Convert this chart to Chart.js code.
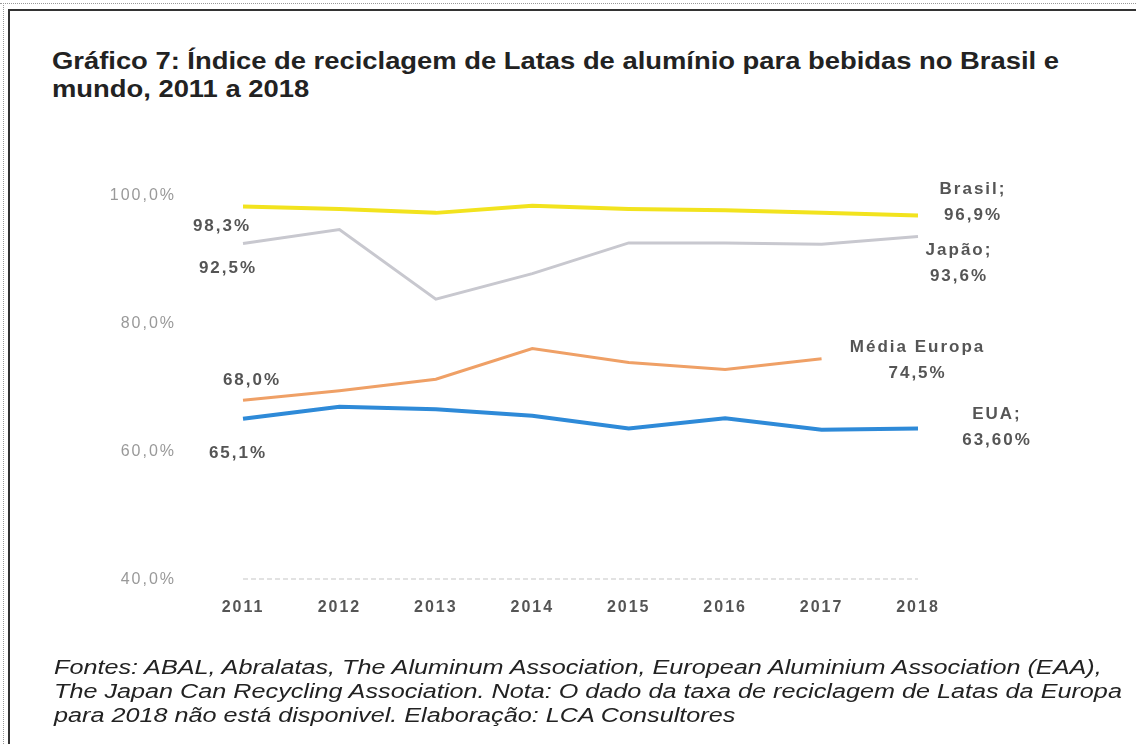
<!DOCTYPE html>
<html lang="pt-BR">
<head>
    <meta charset="UTF-8">
    <title>Gráfico 7</title>
    <script src="https://cdn.jsdelivr.net/npm/chart.js"></script>
    <style>
        body { margin: 0; width: 1136px; height: 744px; background: #fff; position: relative; overflow: hidden; font-family: "Liberation Sans", Arial, sans-serif; }
        .dots-top { position: absolute; left: 0; top: 3px; width: 1136px; border-top: 1px dotted #999; }
        .dots-left { position: absolute; left: 3px; top: 3px; height: 741px; border-left: 1px dotted #999; }
        .frame { position: absolute; left: 8px; top: 9px; width: 1128px; height: 735px; border-top: 2px solid #333; border-left: 2px solid #333; }
        h1 { position: absolute; left: 52px; top: 47px; margin: 0; font-size: 23px; line-height: 28px; font-weight: bold; color: #222; white-space: nowrap; transform: scaleX(1.19); transform-origin: left top; }
        .nota { position: absolute; left: 54px; top: 655px; margin: 0; font-size: 20px; line-height: 24px; font-style: italic; color: #222; white-space: nowrap; transform: scaleX(1.26); transform-origin: left top; }
        #grafico { position: absolute; left: 0; top: 119px; }
    </style>
</head>
<body>
    <div class="dots-top"></div>
    <div class="dots-left"></div>
    <div class="frame"></div>
    <h1>Gráfico 7: Índice de reciclagem de Latas de alumínio para bebidas no Brasil e<br>mundo, 2011 a 2018</h1>
    <canvas id="grafico" width="1136" height="537"></canvas>
    <p class="nota">Fontes: ABAL, Abralatas, The Aluminum Association, European Aluminium Association (EAA),<br>The Japan Can Recycling Association. Nota: O dado da taxa de reciclagem de Latas da Europa<br>para 2018 não está disponivel. Elaboração: LCA Consultores</p>

    <script>
        // dados
        const anos = ['2011', '2012', '2013', '2014', '2015', '2016', '2017', '2018'];
        const brasil = [98.3, 97.9, 97.3, 98.4, 97.9, 97.7, 97.3, 96.9];
        const japao = [92.5, 94.7, 83.8, 87.8, 92.6, 92.6, 92.4, 93.6];
        const europa = [68.0, 69.5, 71.3, 76.1, 73.9, 72.8, 74.5, null];
        const eua = [65.1, 67.0, 66.6, 65.6, 63.6, 65.2, 63.4, 63.6];
        const eixoY = [40, 60, 80, 100];

        // rótulos: [serie, ponto, linhas, dx, dy]
        const rotulos = [
            [0, 0, ['98,3%'], -21, 20],
            [1, 0, ['92,5%'], -15, 25],
            [2, 0, ['68,0%'], 9, -20],
            [3, 0, ['65,1%'], -5, 34],
            [0, 7, ['Brasil;', '96,9%'], 55, -26],
            [1, 7, ['Japão;', '93,6%'], 41, 14],
            [2, 6, ['Média Europa', '74,5%'], 96, -11],
            [3, 7, ['EUA;', '63,60%'], 79, -14]
        ];

        // espaçamento das letras como no original (digitalizado, mais largo)
        const pluginEspaco = {
            id: 'espaco',
            beforeDraw(chart) { chart.ctx.letterSpacing = '2px'; }
        };

        const pluginRotulos = {
            id: 'rotulos',
            afterDatasetsDraw(chart) {
                const ctx = chart.ctx;
                ctx.save();
                ctx.letterSpacing = '2px';
                ctx.font = 'bold 17px "Liberation Sans", Arial, sans-serif';
                ctx.fillStyle = '#555';
                ctx.textAlign = 'center';
                ctx.textBaseline = 'middle';
                rotulos.forEach(r => {
                    const pt = chart.getDatasetMeta(r[0]).data[r[1]];
                    r[2].forEach((txt, i) => {
                        ctx.fillText(txt, pt.x + r[3], pt.y + r[4] + i * 26);
                    });
                });
                ctx.restore();
            }
        };

        const serie = (label, data, cor, largura) => ({
            label: label,
            data: data,
            borderColor: cor,
            borderWidth: largura,
            pointRadius: 0,
            tension: 0,
            fill: false,
            spanGaps: false
        });

        new Chart(document.getElementById('grafico'), {
            type: 'line',
            data: {
                labels: anos,
                datasets: [
                    serie('Brasil', brasil, '#f2e31e', 4),
                    serie('Japão', japao, '#c8c8cf', 3),
                    serie('Média Europa', europa, '#efa066', 3),
                    serie('EUA', eua, '#2e8ad8', 4)
                ]
            },
            options: {
                responsive: false,
                animation: false,
                layout: { padding: { left: 0, right: 218, top: 33, bottom: 0 } },
                plugins: { legend: { display: false }, tooltip: { enabled: false } },
                scales: {
                    x: {
                        offset: false,
                        grid: { display: false },
                        border: { display: false },
                        ticks: {
                            padding: 11,
                            color: '#555',
                            font: { family: '"Liberation Sans", Arial', size: 16, weight: 'bold' }
                        }
                    },
                    y: {
                        min: 40,
                        max: 100,
                        afterFit: s => { s.width = 243; },
                        afterBuildTicks: s => { s.ticks = eixoY.map(v => ({ value: v })); },
                        grid: {
                            drawTicks: false,
                            color: c => c.tick && c.tick.value === 40 ? '#e2e2e2' : 'rgba(0,0,0,0)',
                            lineWidth: 2
                        },
                        border: { display: false, dash: [5, 3] },
                        ticks: {
                            padding: 67,
                            color: '#999',
                            font: { family: '"Liberation Sans", Arial', size: 16 },
                            callback: v => v.toFixed(1).replace('.', ',') + '%'
                        }
                    }
                }
            },
            plugins: [pluginEspaco, pluginRotulos]
        });
    </script>
</body>
</html>
